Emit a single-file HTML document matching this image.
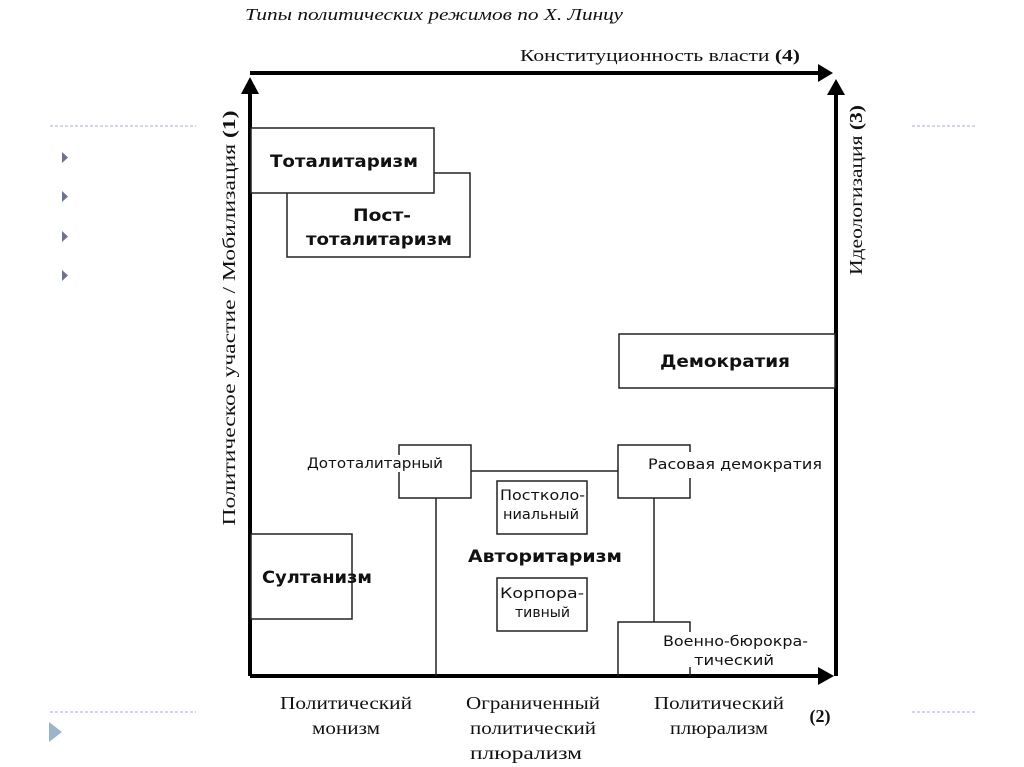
<!DOCTYPE html>
<html><head><meta charset="utf-8"><style>
html,body{margin:0;padding:0;background:#fff;}
svg{display:block}
.s{font-family:"Liberation Serif","Noto Serif CJK SC",serif;fill:#111}
.a{font-family:"DejaVu Sans","Liberation Sans",sans-serif;fill:#111}
.b{font-family:"DejaVu Sans","Liberation Sans",sans-serif;fill:#111;font-weight:bold}
</style></head><body>
<svg width="1024" height="767" viewBox="0 0 1024 767" xmlns="http://www.w3.org/2000/svg">
<g stroke="#9fb0c4" stroke-width="1" stroke-dasharray="3,2">
<line x1="50" y1="126" x2="196" y2="126"/><line x1="912" y1="126" x2="975" y2="126"/>
<line x1="50" y1="712" x2="196" y2="712"/><line x1="912" y1="712" x2="975" y2="712"/>
</g>
<g fill="#6a7390">
<polygon points="62,152 62,163 68,157.5"/><polygon points="62,191 62,202 68,196.5"/>
<polygon points="62,231 62,242 68,236.5"/><polygon points="62,270 62,281 68,275.5"/>
</g>
<polygon points="49,722 49,742 62,732" fill="#9ab4cc"/>
<text x="245" y="20" class="s" font-size="17" font-style="italic" fill="#444" textLength="378" lengthAdjust="spacingAndGlyphs">Типы политических режимов по Х. Линцу</text>
<text x="520" y="61" class="s" font-size="17" textLength="280" lengthAdjust="spacingAndGlyphs">Конституционность власти <tspan font-weight="bold">(4)</tspan></text>
<g stroke="#000" stroke-width="4" fill="none">
<line x1="250" y1="73" x2="818" y2="73"/>
<line x1="250" y1="90" x2="250" y2="676"/>
<line x1="836" y1="92" x2="836" y2="676"/>
<line x1="250" y1="676" x2="820" y2="676"/>
</g>
<g fill="#000">
<polygon points="818,64 833,73 818,82"/>
<polygon points="241,94 250,77 259,94"/>
<polygon points="827,95 836,79 845,95"/>
<polygon points="818,667 834,676 818,685"/>
</g>
<g stroke="#222" stroke-width="1.5" fill="#fff">
<rect x="287" y="173" width="183" height="84"/>
<rect x="251" y="128" width="183" height="65"/>
<rect x="619" y="334" width="216" height="54"/>
<rect x="251" y="534" width="101" height="85"/>
<rect x="497" y="481" width="90" height="53"/>
<rect x="497" y="578" width="90" height="53"/>
</g>
<g stroke="#222" stroke-width="1.5" fill="none">
<polyline points="399,455 399,445 471,445 471,498 399,498 399,472"/>
<line x1="471" y1="471" x2="618" y2="471"/>
<polyline points="690,452 690,445 618,445 618,498 690,498 690,478"/>
<line x1="436" y1="498" x2="436" y2="676"/>
<line x1="654" y1="498" x2="654" y2="622"/>
<polyline points="618,676 618,622 690,622 690,632"/>
<line x1="690" y1="667" x2="690" y2="676"/>
</g>
<text x="270" y="167" class="b" font-size="17" textLength="148" lengthAdjust="spacingAndGlyphs">Тоталитаризм</text>
<text x="353" y="221" class="b" font-size="17" textLength="58" lengthAdjust="spacingAndGlyphs">Пост-</text>
<text x="306" y="245" class="b" font-size="17" textLength="146" lengthAdjust="spacingAndGlyphs">тоталитаризм</text>
<text x="660" y="367" class="b" font-size="17" textLength="130" lengthAdjust="spacingAndGlyphs">Демократия</text>
<text x="262" y="583" class="b" font-size="17" textLength="110" lengthAdjust="spacingAndGlyphs">Султанизм</text>
<text x="468" y="562" class="b" font-size="17" textLength="154" lengthAdjust="spacingAndGlyphs">Авторитаризм</text>
<text x="307" y="468" class="a" font-size="14" textLength="136" lengthAdjust="spacingAndGlyphs">Дототалитарный</text>
<text x="648" y="469" class="a" font-size="14" textLength="174" lengthAdjust="spacingAndGlyphs">Расовая  демократия</text>
<text x="500" y="500" class="a" font-size="14" textLength="85" lengthAdjust="spacingAndGlyphs">Постколо-</text>
<text x="503" y="519" class="a" font-size="14" textLength="76" lengthAdjust="spacingAndGlyphs">ниальный</text>
<text x="500" y="598" class="a" font-size="14" textLength="84" lengthAdjust="spacingAndGlyphs">Корпора-</text>
<text x="515" y="617" class="a" font-size="14" textLength="55" lengthAdjust="spacingAndGlyphs">тивный</text>
<text x="663" y="646" class="a" font-size="14" textLength="145" lengthAdjust="spacingAndGlyphs">Военно-бюрокра-</text>
<text x="694" y="665" class="a" font-size="14" textLength="80" lengthAdjust="spacingAndGlyphs">тический</text>
<g class="s" font-size="18" text-anchor="middle">
<text x="346" y="709" textLength="132" lengthAdjust="spacingAndGlyphs">Политический</text><text x="346" y="734" textLength="68" lengthAdjust="spacingAndGlyphs">монизм</text>
<text x="533" y="709" textLength="134" lengthAdjust="spacingAndGlyphs">Ограниченный</text><text x="533" y="734" textLength="126" lengthAdjust="spacingAndGlyphs">политический</text><text x="526" y="759" textLength="112" lengthAdjust="spacingAndGlyphs">плюрализм</text>
<text x="719" y="709" textLength="130" lengthAdjust="spacingAndGlyphs">Политический</text><text x="719" y="734" textLength="98" lengthAdjust="spacingAndGlyphs">плюрализм</text>
</g>
<text x="820" y="722" class="s" font-size="18" font-weight="bold" text-anchor="middle">(2)</text>
<text transform="translate(235,318) rotate(-90)" class="s" font-size="18" text-anchor="middle" textLength="415" lengthAdjust="spacingAndGlyphs">Политическое участие / Мобилизация <tspan font-weight="bold">(1)</tspan></text>
<text transform="translate(862,190) rotate(-90)" class="s" font-size="18" text-anchor="middle" textLength="170" lengthAdjust="spacingAndGlyphs">Идеологизация <tspan font-weight="bold">(3)</tspan></text>
</svg>
</body></html>
